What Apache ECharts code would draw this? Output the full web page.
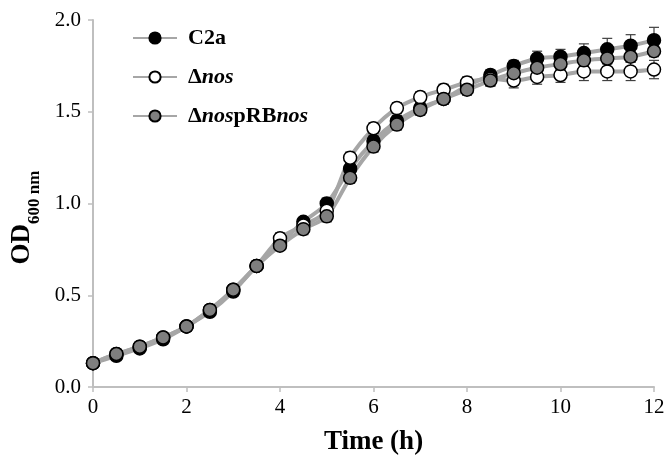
<!DOCTYPE html>
<html>
<head>
<meta charset="utf-8">
<script src="https://cdn.jsdelivr.net/npm/echarts@6/dist/echarts.min.js"></script>
<style>
  html, body { margin: 0; padding: 0; background: #fff; }
  #chart { width: 665px; height: 465px; }
</style>
</head>
<body>
<div id="chart"></div>
<script>
  // time points (h)
  const times = [0, 0.5, 1, 1.5, 2, 2.5, 3, 3.5, 4, 4.5, 5, 5.5, 6, 6.5, 7, 7.5, 8, 8.5, 9, 9.5, 10, 10.5, 11, 11.5, 12];

  // OD600 means
  const c2a = [0.13, 0.17, 0.21, 0.26, 0.33, 0.41, 0.52, 0.66, 0.78, 0.90, 1.00, 1.19, 1.34, 1.45, 1.52, 1.57, 1.64, 1.70, 1.75, 1.79, 1.80, 1.82, 1.84, 1.86, 1.89];
  const nos = [0.13, 0.18, 0.22, 0.27, 0.33, 0.42, 0.53, 0.66, 0.81, 0.88, 0.96, 1.25, 1.41, 1.52, 1.58, 1.62, 1.66, 1.68, 1.67, 1.69, 1.70, 1.72, 1.72, 1.72, 1.73];
  const comp = [0.13, 0.18, 0.22, 0.27, 0.33, 0.42, 0.53, 0.66, 0.77, 0.86, 0.93, 1.14, 1.31, 1.43, 1.51, 1.57, 1.62, 1.67, 1.71, 1.74, 1.76, 1.78, 1.79, 1.80, 1.83];

  // standard deviations
  const c2aErr = [0.01, 0.01, 0.01, 0.01, 0.01, 0.02, 0.02, 0.02, 0.02, 0.02, 0.03, 0.03, 0.03, 0.03, 0.03, 0.03, 0.03, 0.03, 0.03, 0.04, 0.04, 0.05, 0.06, 0.06, 0.07];
  const nosErr = [0.01, 0.01, 0.01, 0.01, 0.01, 0.02, 0.02, 0.02, 0.03, 0.02, 0.03, 0.03, 0.03, 0.03, 0.03, 0.03, 0.03, 0.04, 0.04, 0.04, 0.04, 0.05, 0.05, 0.05, 0.05];
  const compErr = [0.01, 0.01, 0.01, 0.01, 0.01, 0.02, 0.02, 0.02, 0.02, 0.03, 0.03, 0.03, 0.03, 0.03, 0.03, 0.03, 0.03, 0.03, 0.03, 0.03, 0.03, 0.03, 0.03, 0.03, 0.03];

  const yTicks = [0, 0.5, 1.0, 1.5, 2.0];
  const xTicks = [0, 2, 4, 6, 8, 10, 12];

  const seriesDefs = [
    { name: 'C2a', data: c2a, err: c2aErr, fill: '#000000' },
    { name: 'Δnos', data: nos, err: nosErr, fill: '#ffffff' },
    { name: 'ΔnospRBnos', data: comp, err: compErr, fill: '#7f7f7f' },
  ];

  const font = 'Liberation Serif';
  const chart = echarts.init(document.getElementById('chart'));

  const pairs = (arr) => times.map((t, i) => [t, arr[i]]);

  const series = [];
  // lines first so every marker sits above every line
  seriesDefs.forEach((s) => {
    series.push({
      name: s.name,
      type: 'line',
      smooth: 0.3,
      data: pairs(s.data),
      showSymbol: false,
      symbol: 'circle',
      symbolSize: 13,
      lineStyle: { color: '#a6a6a6', width: 4 },
      itemStyle: { color: s.fill, borderColor: '#000', borderWidth: 1.5 },
      z: 2,
      animation: false,
    });
  });
  seriesDefs.forEach((s) => {
    series.push({
      type: 'custom',
      data: times.map((t, i) => [t, s.data[i] - s.err[i], s.data[i] + s.err[i]]),
      renderItem(params, api) {
        const lo = api.coord([api.value(0), api.value(1)]);
        const hi = api.coord([api.value(0), api.value(2)]);
        const w = 5;
        const st = { stroke: '#404040', lineWidth: 1.2 };
        return {
          type: 'group',
          children: [
            { type: 'line', shape: { x1: lo[0], y1: lo[1], x2: hi[0], y2: hi[1] }, style: st },
            { type: 'line', shape: { x1: hi[0] - w, y1: hi[1], x2: hi[0] + w, y2: hi[1] }, style: st },
            { type: 'line', shape: { x1: lo[0] - w, y1: lo[1], x2: lo[0] + w, y2: lo[1] }, style: st },
          ],
        };
      },
      z: 3,
      silent: true,
      animation: false,
    });
  });
  seriesDefs.forEach((s) => {
    series.push({
      type: 'scatter',
      data: pairs(s.data),
      symbol: 'circle',
      symbolSize: 13,
      itemStyle: { color: s.fill, borderColor: '#000', borderWidth: 1.5, opacity: 1 },
      z: 4,
      silent: true,
      animation: false,
    });
  });

  chart.setOption({
    backgroundColor: '#fff',
    textStyle: { fontFamily: font },
    grid: { left: 93, right: 11, top: 20, bottom: 78, outerBoundsMode: 'none' },
    legend: {
      data: seriesDefs.map((s) => s.name),
      orient: 'vertical',
      left: 127,
      top: 22,
      itemWidth: 44,
      itemHeight: 14,
      itemGap: 17,
      formatter(name) {
        if (name === 'C2a') return '{b|C2a}';
        if (name === 'Δnos') return '{b|Δ}{i|nos}';
        return '{b|Δ}{i|nos}{b|pRB}{i|nos}';
      },
      textStyle: {
        padding: [0, 0, 0, 6],
        rich: {
          b: { fontFamily: font, fontWeight: 'bold', fontSize: 22, color: '#000' },
          i: { fontFamily: font, fontWeight: 'bold', fontStyle: 'italic', fontSize: 22, color: '#000' },
        },
      },
    },
    xAxis: {
      type: 'value',
      min: 0,
      max: 12,
      interval: 2,
      name: 'Time (h)',
      nameLocation: 'middle',
      nameGap: 42,
      nameTextStyle: { fontFamily: font, fontWeight: 'bold', fontSize: 27, color: '#000' },
      axisLine: { show: true, onZero: false, lineStyle: { color: '#bfbfbf', width: 2 } },
      axisTick: { show: true, length: 5, lineStyle: { color: '#bfbfbf', width: 1.5 } },
      axisLabel: {
        fontFamily: font, fontSize: 21, color: '#000', margin: 10,
        formatter: (v) => (xTicks.includes(v) ? String(v) : ''),
      },
      splitLine: { show: false },
    },
    yAxis: {
      type: 'value',
      min: 0,
      max: 2,
      interval: 0.5,
      name: '{b|OD}{s|600 nm}',
      nameLocation: 'middle',
      nameGap: 57,
      nameRotate: 90,
      nameTextStyle: {
        padding: [0, 28, 0, 0],
        rich: {
          b: { fontFamily: font, fontWeight: 'bold', fontSize: 27, color: '#000', verticalAlign: 'bottom', lineHeight: 30 },
          s: { fontFamily: font, fontWeight: 'bold', fontSize: 17, color: '#000', verticalAlign: 'bottom', lineHeight: 20, padding: [0, 0, -7, 0] },
        },
      },
      axisLine: { show: true, lineStyle: { color: '#bfbfbf', width: 2 } },
      axisTick: { show: true, length: 5, lineStyle: { color: '#bfbfbf', width: 1.5 } },
      axisLabel: {
        fontFamily: font, fontSize: 21, color: '#000', margin: 12,
        formatter: (v) => (yTicks.includes(v) ? v.toFixed(1) : ''),
      },
      splitLine: { show: false },
    },
    series: series,
  });
</script>
</body>
</html>
